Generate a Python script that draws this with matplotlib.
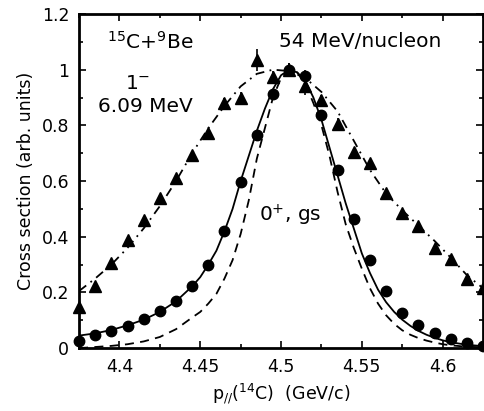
import matplotlib
matplotlib.use("Agg")
import matplotlib.pyplot as plt
from matplotlib.ticker import MultipleLocator

plt.rcParams['font.family'] = ['DejaVu Sans']
plt.rcParams['mathtext.fontset'] = 'dejavusans'

# measured points (0+ gs: circles, 1- 6.09 MeV: triangles)
p_pts = [4.375, 4.385, 4.395, 4.405, 4.415, 4.425, 4.435, 4.445, 4.455, 4.465,
         4.475, 4.485, 4.495, 4.505, 4.515, 4.525, 4.535, 4.545, 4.555, 4.565,
         4.575, 4.585, 4.595, 4.605, 4.615, 4.625]
gs_pts = [0.025, 0.047, 0.062, 0.081, 0.103, 0.134, 0.170, 0.223, 0.298, 0.420,
          0.597, 0.765, 0.912, 1.000, 0.977, 0.837, 0.640, 0.463, 0.316, 0.205,
          0.126, 0.083, 0.054, 0.032, 0.018, 0.007]
gs_err = [0, 0, 0, 0, 0, 0, 0, 0, 0, 0,
          0, 0, 0, 0.025, 0.02, 0, 0, 0, 0, 0,
          0, 0, 0, 0, 0, 0]
ex_pts = [0.147, 0.223, 0.305, 0.390, 0.460, 0.540, 0.612, 0.693, 0.772, 0.880,
          0.898, 1.035, 0.974, 1.000, 0.940, 0.890, 0.805, 0.704, 0.665, 0.557,
          0.485, 0.438, 0.359, 0.320, 0.248, 0.215]
ex_err = [0, 0, 0, 0, 0, 0, 0, 0, 0, 0.02,
          0.02, 0.04, 0.02, 0.025, 0.03, 0.02, 0.02, 0, 0, 0,
          0, 0, 0, 0, 0, 0]

# calculated curves
p_gs = [4.375, 4.385, 4.395, 4.405, 4.415, 4.425, 4.435, 4.445, 4.450, 4.455,
        4.460, 4.465, 4.470, 4.475, 4.480, 4.485, 4.490, 4.495, 4.500, 4.505,
        4.510, 4.515, 4.520, 4.525, 4.530, 4.535, 4.540, 4.545, 4.550, 4.555,
        4.560, 4.565, 4.570, 4.575, 4.580, 4.585, 4.590, 4.595, 4.600, 4.605,
        4.615, 4.625]
solid_gs = [0.045, 0.053, 0.065, 0.082, 0.102, 0.130, 0.168, 0.222, 0.255, 0.300,
            0.350, 0.420, 0.500, 0.600, 0.690, 0.780, 0.860, 0.930, 0.980, 1.000,
            0.990, 0.960, 0.900, 0.820, 0.720, 0.620, 0.520, 0.430, 0.340, 0.270,
            0.210, 0.165, 0.130, 0.102, 0.080, 0.062, 0.048, 0.037, 0.028, 0.021,
            0.012, 0.007]
dashed_gs = [0.000, 0.004, 0.008, 0.014, 0.024, 0.040, 0.068, 0.110, 0.130, 0.160,
             0.195, 0.250, 0.316, 0.410, 0.530, 0.680, 0.790, 0.900, 0.970, 1.000,
             0.990, 0.950, 0.880, 0.800, 0.690, 0.560, 0.445, 0.360, 0.285, 0.215,
             0.160, 0.118, 0.087, 0.064, 0.048, 0.036, 0.027, 0.020, 0.014, 0.010,
             0.005, 0.003]
p_ex = [4.375, 4.385, 4.395, 4.405, 4.415, 4.425, 4.435, 4.445, 4.455, 4.465,
        4.475, 4.485, 4.495, 4.505, 4.515, 4.525, 4.535, 4.545, 4.555, 4.565,
        4.575, 4.585, 4.595, 4.605, 4.615, 4.625]
dashdot_ex = [0.205, 0.250, 0.300, 0.360, 0.430, 0.510, 0.600, 0.700, 0.790, 0.870,
              0.940, 0.985, 1.000, 0.995, 0.970, 0.920, 0.850, 0.745, 0.640, 0.555,
              0.495, 0.440, 0.385, 0.325, 0.262, 0.215]

fig = plt.figure(figsize=(4.85, 4.11), dpi=100)
ax = fig.add_axes([0.163, 0.153, 0.833, 0.813])

ax.plot(p_gs, solid_gs, '-', color='black', lw=1.3)
ax.plot(p_gs, dashed_gs, '--', color='black', lw=1.3, dashes=(5, 3.5))
ax.plot(p_ex, dashdot_ex, '-.', color='black', lw=1.3, dashes=(5, 3, 1, 3))
ax.errorbar(p_pts, gs_pts, yerr=gs_err, fmt='o', color='black', ms=7.5,
            elinewidth=1.2, capsize=0, clip_on=False, zorder=5)
ax.errorbar(p_pts, ex_pts, yerr=ex_err, fmt='^', color='black', ms=8,
            elinewidth=1.2, capsize=0, clip_on=False, zorder=5)

ax.set_xlim(4.375, 4.625)
ax.set_ylim(0, 1.2)
ax.xaxis.set_minor_locator(MultipleLocator(0.025))
ax.yaxis.set_minor_locator(MultipleLocator(0.1))
ax.set_xticks([4.4, 4.45, 4.5, 4.55, 4.6])
ax.set_xticklabels(['4.4', '4.45', '4.5', '4.55', '4.6'])
ax.set_yticks([0, 0.2, 0.4, 0.6, 0.8, 1, 1.2])
ax.set_yticklabels(['0', '0.2', '0.4', '0.6', '0.8', '1', '1.2'])
ax.tick_params(which='both', direction='in', top=True, right=True,
               labelsize=12.5, width=1.2, pad=7)
ax.tick_params(which='major', length=5)
ax.tick_params(which='minor', length=3)
for s in ax.spines.values():
    s.set_linewidth(2)

ax.set_xlabel(r'p$_{//}$($^{14}$C)  (GeV/c)', fontsize=12.5, labelpad=4)
ax.set_ylabel('Cross section (arb. units)', fontsize=12.5, labelpad=5)

ax.text(4.3925, 1.10, r'$^{15}$C+$^{9}$Be', fontsize=14.5, va='center')
ax.text(4.549, 1.10, '54 MeV/nucleon', fontsize=14.5, ha='center', va='center')
ax.text(4.4113, 0.952, r'1$^{-}$', fontsize=14.5, ha='center', va='center')
ax.text(4.4163, 0.866, '6.09 MeV', fontsize=14.5, ha='center', va='center')
ax.text(4.5055, 0.478, r'0$^{+}$, gs', fontsize=14.5, ha='center', va='center')

fig.savefig('out.png', dpi=100)
